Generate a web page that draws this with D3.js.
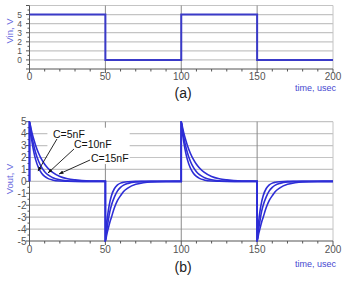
<!DOCTYPE html>
<html><head><meta charset="utf-8">
<script src="https://cdn.jsdelivr.net/npm/d3@7"></script>
<style>
body{margin:0;background:#fff;}
svg{display:block;font-family:"Liberation Sans",Arial,sans-serif;}
</style></head>
<body>
<svg id="c" width="343" height="289"></svg>
<script>
// ---- data ----
const vinTimes  = [0, 0, 50, 50, 100, 100, 150, 150, 200];
const vinValues = [5, 5, 5, 0, 0, 5, 5, 0, 0];
const edgeTimes = [0, 50, 100, 150];
const edgeSigns = [1, -1, 1, -1];
const decayTimes = [0, 1, 2, 3, 4, 6, 8, 10, 12, 15, 20, 25, 30, 40, 50];
// read-off decay after a rising edge
const riseC5  = [5, 3.9, 3.03, 2.36, 1.84, 1.12, 0.68, 0.41, 0.25, 0.12, 0.03, 0.01, 0, 0, 0];
const riseC10 = [5, 4.17, 3.47, 2.9, 2.42, 1.68, 1.17, 0.81, 0.56, 0.33, 0.13, 0.05, 0.02, 0, 0];
const riseC15 = [5, 4.41, 3.89, 3.44, 3.03, 2.36, 1.84, 1.43, 1.12, 0.77, 0.41, 0.22, 0.12, 0.03, 0.01];
// read-off decay after a falling edge
const fallC5  = [-5, -3.4, -2.4, -1.7, -1.2, -0.6, -0.3, -0.15, -0.08, -0.03, 0, 0, 0, 0, 0];
const fallC10 = [-5, -4.0, -3.2, -2.5, -2.0, -1.3, -0.8, -0.5, -0.32, -0.17, -0.05, -0.02, 0, 0, 0];
const fallC15 = [-5, -4.4, -3.9, -3.4, -3.0, -2.2, -1.6, -1.2, -0.85, -0.55, -0.25, -0.12, -0.05, -0.01, 0];
const seriesNames = ["C=5nF", "C=10nF", "C=15nF"];
const xTicks = [0, 50, 100, 150, 200];
const vinTicks = [0, 1, 2, 3, 4, 5];
const voutTicks = [-5, -4, -3, -2, -1, 0, 1, 2, 3, 4, 5];
// annotation anchors (data units): text pos, arrow start, arrow tip
const annText = [[15.5, 3.67], [29.3, 2.79], [40.5, 1.64]];
const annFrom = [[18.1, 3.55], [29.3, 2.71], [39.9, 1.79]];
const annTo   = [[5.6, 0.86], [12.2, 0.70], [19.4, 0.61]];

// ---- build ----
const svg = d3.select("#c");
const defs = svg.append("defs");
defs.append("marker").attr("id","arr").attr("viewBox","0 0 10 10").attr("refX",10).attr("refY",5)
  .attr("markerWidth",5).attr("markerHeight",5).attr("orient","auto")
  .append("path").attr("d","M0,1L10,5L0,9z").attr("fill","#111");

const x = d3.scaleLinear().domain([0, 200]).range([29.5, 333]);
const yTop = d3.scaleLinear().domain([-1, 6]).range([69, 5.5]);
const yBot = d3.scaleLinear().domain([-5, 5]).range([241, 121.7]);

const gridH = "#c4c4c4", gridV = "#8a8a8a", axisC = "#555";
const lineC = "#2d2dd6";
const titleC = "#6666dd";

function panel(y, yMin, yMax, hTicks, yLabFont, yLabX, xLabY, title, titleY, tag, tagY, timeY){
  const g = svg.append("g");
  const hLines = d3.range(yMin + 1, yMax + 1);
  g.selectAll(".h").data(hLines).join("line")
    .attr("x1", x(0)).attr("x2", x(200)).attr("y1", d=>y(d)).attr("y2", d=>y(d))
    .attr("stroke", gridH).attr("stroke-width", 1.2);
  g.append("line").attr("x1", x(200)).attr("x2", x(200)).attr("y1", y(yMin)).attr("y2", y(yMax))
    .attr("stroke", gridH).attr("stroke-width", 1);
  g.selectAll(".v").data([50, 100, 150]).join("line")
    .attr("x1", d=>x(d)).attr("x2", d=>x(d)).attr("y1", y(yMin)).attr("y2", y(yMax))
    .attr("stroke", gridV).attr("stroke-width", 1);
  const xa = g.append("g").attr("transform", `translate(0,${y(yMin)})`);
  xa.append("line").attr("x1", x(0)).attr("x2", x(200)).attr("stroke", axisC);
  xa.selectAll(".mt").data(d3.range(0, 201, 10)).join("line")
    .attr("x1", d=>x(d)).attr("x2", d=>x(d)).attr("y1", 0).attr("y2", d=> d % 50 === 0 ? 4 : 2.5)
    .attr("stroke", axisC);
  g.selectAll(".xl").data(xTicks).join("text")
    .attr("x", d=>x(d)).attr("y", xLabY).attr("text-anchor", "middle")
    .attr("font-size", 10).attr("fill", "#555").text(d=>d);
  const ya = g.append("g").attr("transform", `translate(${x(0)},0)`);
  ya.append("line").attr("y1", y(yMin)).attr("y2", y(yMax)).attr("stroke", axisC);
  ya.selectAll(".yt").data(d3.range(yMin*2, yMax*2 + 1).map(d=>d/2)).join("line")
    .attr("x1", d=> Number.isInteger(d) ? -3.5 : -2).attr("x2", 0)
    .attr("y1", d=>y(d)).attr("y2", d=>y(d)).attr("stroke", axisC);
  g.selectAll(".yl").data(hTicks).join("text")
    .attr("x", yLabX).attr("y", d=>y(d)).attr("dy", "0.35em").attr("text-anchor", "end")
    .attr("font-size", yLabFont).attr("fill", "#555").text(d=>d);
  g.append("text").attr("transform", `translate(12.5,${titleY}) rotate(-90)`)
    .attr("text-anchor", "middle").attr("font-size", 9.5).attr("fill", titleC).text(title);
  g.append("text").attr("x", 336).attr("y", timeY).attr("text-anchor", "end")
    .attr("font-size", 9).attr("fill", "#4646d0").text("time, usec");
  g.append("text").attr("x", 174.5).attr("y", tagY)
    .attr("font-size", 14).attr("fill", "#222").text(tag);
  return g;
}

// ---- panel (a) ----
const ga = panel(yTop, -1, 6, vinTicks, 8.5, 22, 80, "Vin, V", 31, "(a)", 97.5, 90.5);
const vinData = vinTimes.map((t,i)=>[t, vinValues[i]]);
ga.append("path").datum(vinData)
  .attr("d", d3.line().x(d=>x(d[0])).y(d=>yTop(d[1])))
  .attr("fill", "none").attr("stroke", "#3a3ac8").attr("stroke-width", 2);

// ---- panel (b) ----
const gb = panel(yBot, -5, 5, voutTicks, 10, 26.5, 252.5, "Vout, V", 179, "(b)", 271.5, 267);
gb.append("rect")
  .attr("x", x(11.8)).attr("y", yBot(4.5)).attr("width", x(66) - x(11.8)).attr("height", yBot(1.45) - yBot(4.5))
  .attr("fill", "#fff");

const rises = [riseC5, riseC10, riseC15];
const falls = [fallC5, fallC10, fallC15];
const curves = seriesNames.map((name, k) => {
  const pts = [[0, 0]];
  edgeTimes.forEach((t0, e) => {
    const prof = edgeSigns[e] > 0 ? rises[k] : falls[k];
    decayTimes.forEach((dt, j) => pts.push([t0 + dt, prof[j]]));
  });
  return {name, pts};
});
const line = d3.line().x(d=>x(d[0])).y(d=>yBot(d[1])).curve(d3.curveMonotoneX);
gb.selectAll(".curve").data(curves).join("path")
  .attr("d", d=> {
    let s = "";
    edgeTimes.forEach((t0) => {
      const seg = d.pts.filter(p => p[0] >= t0 && p[0] <= t0 + 50);
      s += line(seg);
    });
    edgeTimes.forEach((t0, e) => {
      s += `M${x(t0)},${yBot(0)}L${x(t0)},${yBot(edgeSigns[e]*5)}`;
    });
    return s;
  })
  .attr("fill", "none").attr("stroke", lineC).attr("stroke-width", 1.6);

gb.selectAll(".al").data(seriesNames).join("line")
  .attr("x1", (d,i)=>x(annFrom[i][0])).attr("y1", (d,i)=>yBot(annFrom[i][1]))
  .attr("x2", (d,i)=>x(annTo[i][0])).attr("y2", (d,i)=>yBot(annTo[i][1]))
  .attr("stroke", "#111").attr("stroke-width", 0.9).attr("marker-end", "url(#arr)");
gb.selectAll(".at").data(seriesNames).join("text")
  .attr("x", (d,i)=>x(annText[i][0])).attr("y", (d,i)=>yBot(annText[i][1]))
  .attr("font-size", 10.5).attr("fill", "#111").text(d=>d);
</script>
</body></html>
